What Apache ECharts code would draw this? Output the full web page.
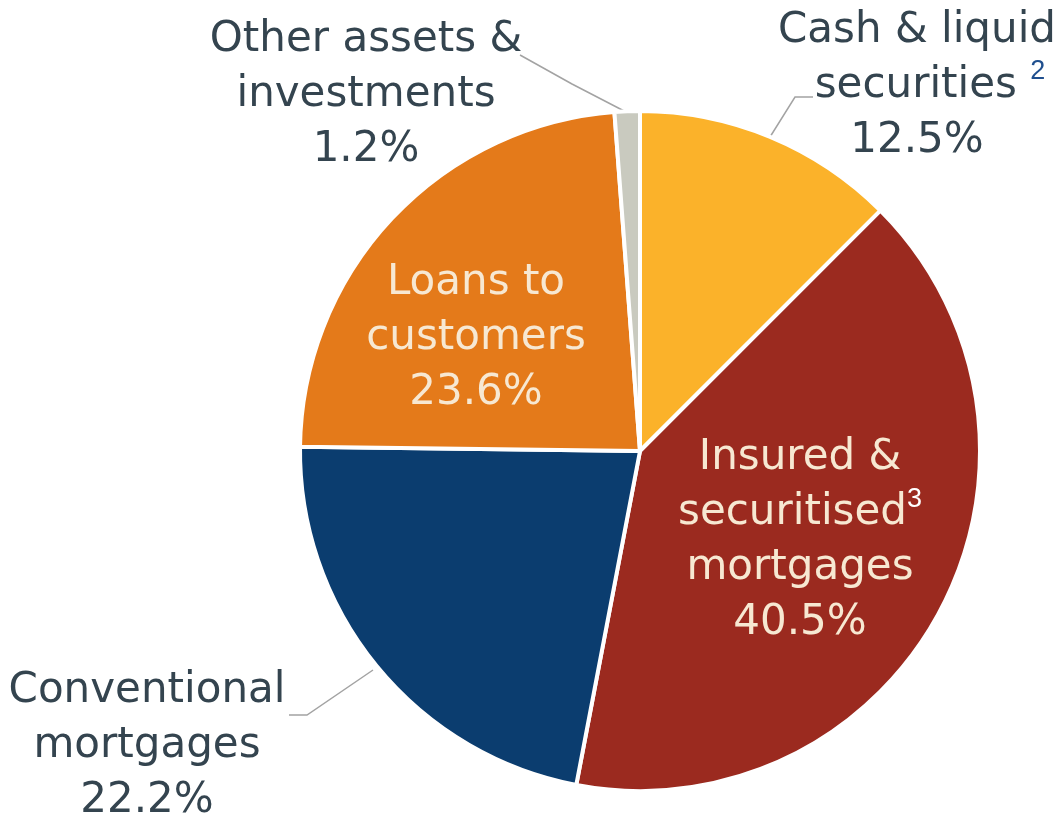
<!DOCTYPE html>
<html>
<head>
<meta charset="utf-8">
<script src="https://cdn.jsdelivr.net/npm/echarts@6/dist/echarts.min.js"></script>
<style>
  html, body { margin: 0; padding: 0; background: #fff; }
  #chart { width: 1063px; height: 821px; }
</style>
</head>
<body>
<div id="chart"></div>
<script>
// slice data, clockwise from 12 o'clock
const names = [
  'Cash & liquid securities',
  'Insured & securitised mortgages',
  'Conventional mortgages',
  'Loans to customers',
  'Other assets & investments'
]
const shares = [12.5, 40.5, 22.2, 23.6, 1.2]
const colors = ['#FBB22A', '#9B2A1F', '#0B3D6F', '#E47A1A', '#C9CABF']

// label text lines, one block per slice
const labelText = [
  '{o|Cash & liquid}\n{pad| }{o|securities }{s2|2}\n{o|12.5%}',
  '{i|Insured &}\n{i|securitised}{s3|3}\n{i|mortgages}\n{i|40.5%}',
  '{o|Conventional}\n{o|mortgages}\n{o|22.2%}',
  '{i|Loans to}\n{i|customers}\n{i|23.6%}',
  '{o|Other assets &}\n{o|investments}\n{o|1.2%}'
]

// where each label block sits, and its leader line
const labelSpots = [
  { x: 917, y: 86, line: [[770, 137], [795, 97], [813, 97]] },
  { x: 800, y: 541 },
  { x: 147, y: 746, line: [[373, 670], [307, 715], [289, 715]] },
  { x: 476, y: 338 },
  { x: 366, y: 95, line: [[628, 113], [572, 84], [520, 55]] }
]

const font = '"DejaVu Sans", sans-serif'
const chart = echarts.init(document.getElementById('chart'))

chart.setOption({
  backgroundColor: '#ffffff',
  animation: false,
  series: [
    {
      type: 'pie',
      center: [640, 451],
      radius: [0, 340],
      startAngle: 90,
      clockwise: true,
      itemStyle: { borderColor: '#ffffff', borderWidth: 4 },
      label: {
        show: true,
        position: 'outside',
        overflow: 'none',
        formatter: p => labelText[p.dataIndex],
        align: 'center',
        rich: {
          o: { fontFamily: font, fontSize: 42, color: '#34444F', lineHeight: 55 },
          i: { fontFamily: font, fontSize: 42, color: '#F7E8D2', lineHeight: 55 },
          pad: { fontSize: 10, width: 26 },
          s2: { fontFamily: '"Liberation Sans", sans-serif', fontSize: 27, color: '#1F4F8E', verticalAlign: 'top', lineHeight: 34 },
          s3: { fontFamily: '"Liberation Sans", sans-serif', fontSize: 27, color: '#ffffff', verticalAlign: 'top', lineHeight: 50 }
        }
      },
      labelLine: {
        show: true,
        lineStyle: { color: '#A3A3A3', width: 1.5 }
      },
      labelLayout: p => {
        const s = labelSpots[p.dataIndex]
        const out = { x: s.x, y: s.y, align: 'center', verticalAlign: 'middle' }
        if (s.line) out.labelLinePoints = s.line
        return out
      },
      data: names.map((n, i) => ({
        name: n,
        value: shares[i],
        itemStyle: { color: colors[i] },
        labelLine: { show: !!labelSpots[i].line }
      }))
    }
  ]
})
</script>
</body>
</html>
